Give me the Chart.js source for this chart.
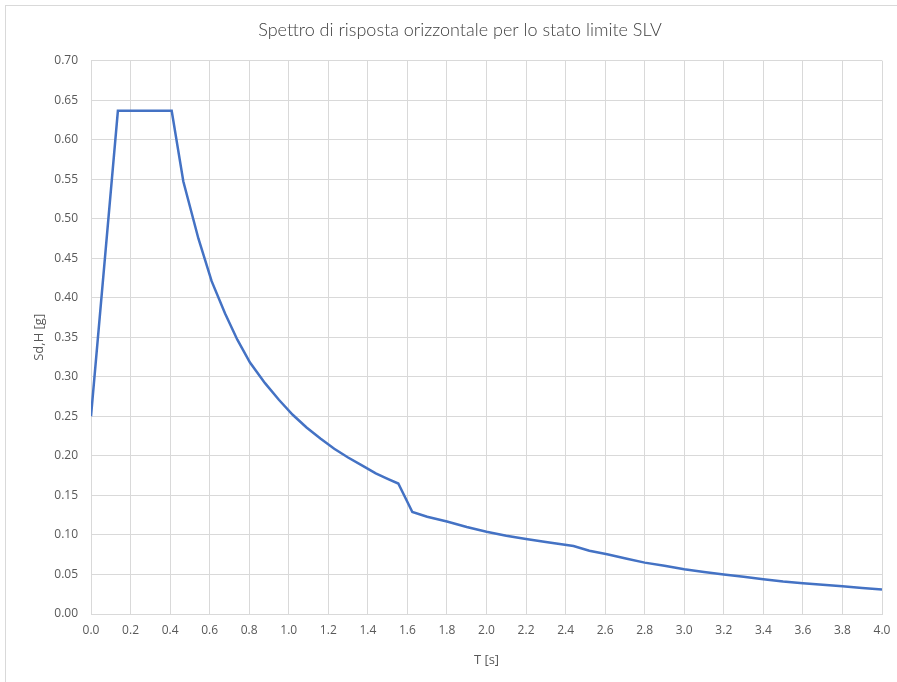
<!DOCTYPE html>
<html>
<head>
<meta charset="utf-8">
<script src="https://cdn.jsdelivr.net/npm/chart.js@4"></script>
<style>
  html, body { margin: 0; padding: 0; background: #fff; overflow: hidden; }
  #wrap { position: absolute; left: 0; top: 0; width: 920px; height: 682px; }
  #frame { position: absolute; left: 5px; top: 5px; width: 915px; height: 700px; border: 1px solid #d9d9d9; pointer-events: none; }
</style>
</head>
<body>
<div id="wrap"><canvas id="spettro" width="920" height="682"></canvas></div>
<div id="frame"></div>
<script>
// periodo T [s] e ordinate spettrali Sd,H [g]
const periodT = [0, 0.136, 0.408, 0.467, 0.543, 0.61, 0.678, 0.74, 0.804, 0.88, 0.95, 1.02, 1.09, 1.16, 1.23, 1.30, 1.37, 1.44, 1.50, 1.554,
    1.625, 1.70, 1.80, 1.90, 2.00, 2.10, 2.20, 2.30, 2.44, 2.52, 2.61, 2.71, 2.80, 2.90, 3.00, 3.10, 3.20, 3.30, 3.40, 3.50, 3.60, 3.70, 3.80, 3.90, 4.00];
const sdH = [0.250, 0.6365, 0.6365, 0.547, 0.475, 0.421, 0.380, 0.347, 0.318, 0.292, 0.271, 0.252, 0.236, 0.222, 0.209, 0.198, 0.188, 0.178, 0.171, 0.165,
    0.129, 0.123, 0.117, 0.110, 0.104, 0.099, 0.095, 0.091, 0.086, 0.080, 0.0755, 0.070, 0.065, 0.061, 0.0565, 0.053, 0.050, 0.047, 0.044, 0.041, 0.039, 0.037, 0.035, 0.033, 0.031];

const xTicks = { min: 0, max: 4, step: 0.2 };
const yTicks = { min: 0, max: 0.7, step: 0.05 };

const points = periodT.map((t, i) => ({ x: t, y: sdH[i] }));

const fontFamily = "'Open Sans', 'Liberation Sans', sans-serif";
const tickFont = { size: 12, family: fontFamily };
const gridColor = '#d9d9d9';

new Chart(document.getElementById('spettro').getContext('2d'), {
    type: 'scatter',
    data: {
        datasets: [{
            label: 'Sd,H',
            data: points,
            showLine: true,
            borderColor: '#4472c4',
            borderWidth: 2.5,
            pointRadius: 0,
            tension: 0
        }]
    },
    options: {
        responsive: false,
        animation: false,
        layout: {
            padding: 0
        },
        scales: {
            x: {
                type: 'linear',
                min: xTicks.min,
                max: xTicks.max,
                grid: { color: gridColor, drawTicks: false },
                border: { color: gridColor },
                ticks: {
                    stepSize: xTicks.step,
                    color: '#595959',
                    font: tickFont,
                    padding: 9,
                    maxRotation: 0,
                    callback: v => v.toFixed(1)
                },
                title: {
                    display: true,
                    text: 'T [s]',
                    color: '#595959',
                    font: { size: 13, family: fontFamily },
                    padding: { top: 0, bottom: 14 }
                },
                afterFit: s => { s.height = 68; }
            },
            y: {
                min: yTicks.min,
                max: yTicks.max,
                grid: { color: gridColor, drawTicks: false },
                border: { color: gridColor },
                ticks: {
                    stepSize: yTicks.step,
                    color: '#595959',
                    font: tickFont,
                    padding: 13,
                    callback: v => v.toFixed(2)
                },
                title: {
                    display: true,
                    text: 'Sd,H [g]',
                    color: '#595959',
                    font: { size: 13, family: fontFamily },
                    padding: { top: 31, bottom: 0 }
                },
                afterFit: s => { s.width = 91; }
            },
            // empty right-hand margin, keeps the title centred on the whole chart
            spacer: {
                position: 'right',
                min: 0,
                max: 1,
                grid: { display: false },
                border: { display: false },
                ticks: { display: false },
                afterFit: s => { s.width = 38; }
            }
        },
        plugins: {
            legend: { display: false },
            tooltip: { enabled: false },
            title: {
                display: true,
                text: 'Spettro di risposta orizzontale per lo stato limite SLV',
                color: '#404040',
                font: { size: 18, weight: 300, family: "Lato, 'Open Sans', sans-serif" },
                padding: { top: 19, bottom: 20 }
            }
        }
    }
});
</script>
</body>
</html>
